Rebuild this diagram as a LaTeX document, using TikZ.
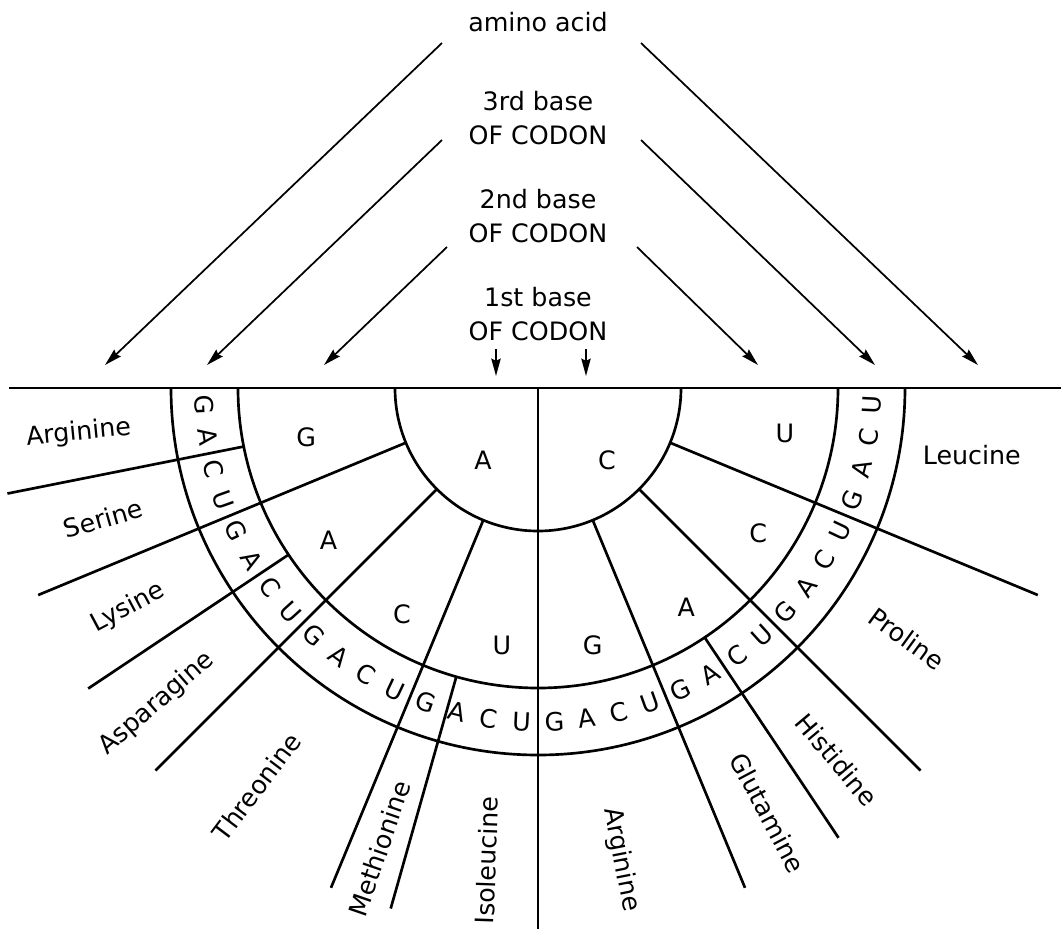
\documentclass[tikz,border=0pt]{standalone}
\usepackage{fontspec}
\setmainfont{DejaVu Sans}
\usetikzlibrary{arrows.meta}

\tikzset{
  wheel/.style={line width=2pt},
  pointer/.style={line width=1.3pt,-{Stealth[length=13pt,width=7pt,inset=1.5pt]}},
  base/.style={inner sep=0pt},
  acid/.style={inner sep=0pt},
}

\begin{document}
\begin{tikzpicture}[x=0.75pt,y=0.75pt,yscale=-1,xscale=1,font=\fontsize{19}{26}\selectfont]
\useasboundingbox (0,0) rectangle (1061,929);

% Text Node
\node (aa) at (538,22) {amino acid};
% Text Node
\node [align=center] (third) at (538,118) {3rd base\\OF CODON};
% Text Node
\node [align=center] (second) at (538,216) {2nd base\\OF CODON};
% Text Node
\node [align=center] (first) at (538,314) {1st base\\OF CODON};

%Straight Lines
\coordinate (aaL) at (442,43);   \coordinate (aaLend) at (105,365);
\coordinate (aaR) at (641,43);   \coordinate (aaRend) at (978,365);
\coordinate (thL) at (442,140);  \coordinate (thLend) at (207,365);
\coordinate (thR) at (641,140);  \coordinate (thRend) at (875,365);
\coordinate (scL) at (447,247);  \coordinate (scLend) at (324,365);
\coordinate (scR) at (637,247);  \coordinate (scRend) at (758,365);
\coordinate (fsL) at (496,349);  \coordinate (fsLend) at (496,376);
\coordinate (fsR) at (586,349);  \coordinate (fsRend) at (586,376);
\draw [pointer] (aaL) -- (aaLend);
\draw [pointer] (aaR) -- (aaRend);
\draw [pointer] (thL) -- (thLend);
\draw [pointer] (thR) -- (thRend);
\draw [pointer] (scL) -- (scLend);
\draw [pointer] (scR) -- (scRend);
\draw [pointer] (fsL) -- (fsLend);
\draw [pointer] (fsR) -- (fsRend);

\begin{scope}[shift={(538,388)}]
%Straight Lines
\draw [wheel] (-529,0) -- (523,0);
\draw [wheel] (0,0) -- (90:541);
%Shape: Arc
\draw [wheel] (180:143) arc [start angle=180,end angle=0,radius=143];
\draw [wheel] (180:300) arc [start angle=180,end angle=0,radius=300];
\draw [wheel] (180:367) arc [start angle=180,end angle=0,radius=367];
%Straight Lines
\foreach \a in {157.5,135,112.5,67.5,45,22.5}
  \draw [wheel] (\a:143) -- (\a:541);
\foreach \a in {168.75,146.25,105.8,56.25}
  \draw [wheel] (\a:300) -- (\a:541);

% Text Node
\node [base] (firstA) at (-55,72) {A};
\node [base] (firstC) at (69,72) {C};
% Text Node
\foreach \a/\r/\b [count=\i] in {168/237/G,144/259/A,121/264/C,98/260/U,78/263/G,56/265/A,33.5/264/C,10.5/251/U}
  \node [base] (sec\i) at (\a:\r) {\b};
% Text Node
\foreach \s [count=\i] in {180,157.5,135,112.5,90,67.5,45,22.5}{
  \foreach \b [count=\k from 0] in {G,A,C,U}{
    \pgfmathsetmacro\ang{\s-2.8125-5.625*\k}
    \pgfmathsetmacro\rot{90-\ang}
    \node [base,rotate=\rot] (thd\i\b) at (\ang:334) {\b};
  }
}
% Text Node
\foreach \a/\r/\o/\n [count=\i] in {174.4/461/5.6/Arginine,163.3/454/16/Serine,151.8/465/28/Lysine,140.4/495/41/Asparagine,125.2/488/53/Threonine,109/487/71/Methionine,96.2/475/88/Isoleucine,80/479/-79/Arginine,61.6/483/-62/Glutamine,51.2/477/-50/Histidine,34.2/446/-36/Proline,8.8/439/0/Leucine}
  \node [acid,rotate=\o] (acid\i) at (\a:\r) {\n};
\end{scope}

\end{tikzpicture}
\end{document}
